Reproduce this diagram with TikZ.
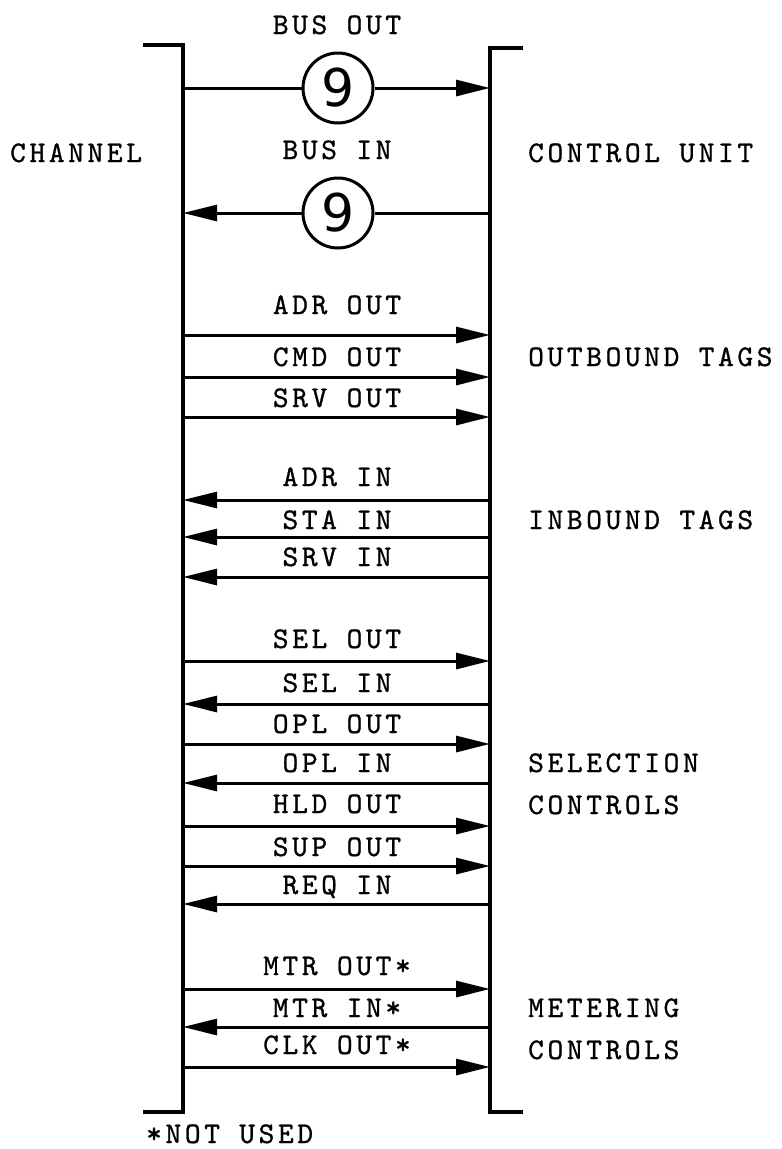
\documentclass[tikz,border=0pt]{standalone}
\usepackage{fontspec}
\setmonofont{lmmono10-regular.otf}[LetterSpace=12,FakeBold=0.9]
\newfontfamily\digitfont{DejaVu Sans}
\usetikzlibrary{arrows.meta,positioning,calc}

\tikzset{
  rail/.style={line width=3.4pt},
  wire/.style={line width=3pt},
  tofcu/.style={wire,-{Triangle[length=34pt,width=16pt]}},
  tochan/.style={wire,{Triangle[length=34pt,width=16pt]}-},
  sig/.style={font=\ttfamily\fontsize{30}{36}\selectfont, text height=18pt, text depth=0pt, inner sep=0pt},
  side/.style={sig, anchor=west},
  busring/.style={circle, draw, line width=3pt, minimum size=70pt, inner sep=0pt, fill=white,
    font=\digitfont\fontsize{52}{52}\selectfont}
}

\begin{document}
\begin{tikzpicture}[x=1pt,y=-1pt]
  \useasboundingbox (0,0) rectangle (782,1149);

  % the two interface rails
  \coordinate (chtop) at (183,45);
  \coordinate (chbot) at (183,1112);
  \coordinate (cutop) at (490,48);
  \coordinate (cubot) at (490,1112);
  \draw[rail] ($(chtop)+(-40,0)$) -- (chtop) -- (chbot) -- ($(chbot)+(-40,0)$);
  \draw[rail] ($(cutop)+(33,0)$) -- (cutop) -- (cubot) -- ($(cubot)+(33,0)$);

  \node[side] (chan) at (10,153) {CHANNEL};
  \node[side] (cu) at (528,153) {CONTROL UNIT};

  % buses
  \node[sig] (busoutlab) at (337,25) {BUS OUT};
  \node[busring] (busout) at (338,88) {9};
  \coordinate (bol) at (183,88);
  \coordinate (bor) at (490,88);
  \draw[wire] (bol) -- (busout.west);
  \draw[tofcu] (busout.east) -- (bor);

  \node[sig] (businlab) at (337,150) {BUS IN};
  \node[busring] (busin) at (338,213) {9};
  \coordinate (bil) at (183,213);
  \coordinate (bir) at (490,213);
  \draw[wire] (bir) -- (busin.east);
  \draw[tofcu] (busin.west) -- (bil);

  % tag and control lines
  \foreach \ly/\ty/\lab/\dir [count=\i] in {
      335/305/ADR OUT/tofcu, 377/357/CMD OUT/tofcu, 417/398/SRV OUT/tofcu,
      500/477/ADR IN/tochan, 537/520/STA IN/tochan, 577/557/SRV IN/tochan,
      661/639/SEL OUT/tofcu, 704/683/SEL IN/tochan, 744/724/OPL OUT/tofcu,
      783/763/OPL IN/tochan, 826/804/HLD OUT/tofcu, 866/847/SUP OUT/tofcu,
      904/885/REQ IN/tochan,
      989/966/MTR OUT*/tofcu, 1027/1008/MTR IN*/tochan, 1067/1045/CLK OUT*/tofcu} {
    \coordinate (L\i) at (183,\ly);
    \coordinate (R\i) at (490,\ly);
    \node[sig] (S\i) at (337,\ty) {\lab};
    \draw[\dir] (L\i) -- (R\i);
  }

  % group names
  \node[side] (outtags) at (528,357) {OUTBOUND TAGS};
  \node[side] (intags) at (528,520) {INBOUND TAGS};
  \node[side] (sel1) at (528,763) {SELECTION};
  \node[side] (sel2) at (528,805) {CONTROLS};
  \node[side] (mtr1) at (528,1008) {METERING};
  \node[side] (mtr2) at (528,1050) {CONTROLS};

  \node[side] (note) at (146,1134) {*NOT USED};
\end{tikzpicture}
\end{document}
